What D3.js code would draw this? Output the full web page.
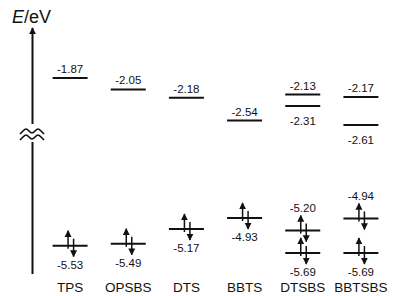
<!DOCTYPE html>
<html>
  <head>
    <script src="https://d3js.org/d3.v7.min.js"></script>
    <style>
      body { margin: 0; background: #fff; }
      text { font-family: "Liberation Sans", Arial, sans-serif; fill: #111; }
    </style>
  </head>
  <body>
    <svg width="394" height="296"></svg>
    <script>
    // molecules and their frontier orbital levels (eV)
    var categories = ["TPS", "OPSBS", "DTS", "BBTS", "DTSBS", "BBTSBS"];
    var lumo1 = [-1.87, -2.05, -2.18, -2.54, -2.13, -2.17];
    var lumo2 = [null, null, null, null, -2.31, -2.61];
    var homo1 = [-5.53, -5.49, -5.17, -4.93, -5.20, -4.94];
    var homo2 = [null, null, null, null, -5.69, -5.69];

    var svg = d3.select("svg");

    var x = d3.scaleBand().domain(categories).range([41, 390]);
    // broken axis: two separate scales for LUMO and HOMO regions
    var yTop = d3.scaleLinear().domain([-1.87, -2.61]).range([78, 125]);
    var yBot = d3.scaleLinear().domain([-4.93, -5.69]).range([218, 253]);
    var half = 17.5;
    function cx(c) { return x(c) + x.bandwidth() / 2; }

    // arrow head marker
    svg.append("defs").append("marker")
        .attr("id", "head")
        .attr("viewBox", "0 0 10 10")
        .attr("refX", 9).attr("refY", 5)
        .attr("markerWidth", 7).attr("markerHeight", 8)
        .attr("markerUnits", "userSpaceOnUse")
        .attr("orient", "auto")
      .append("path").attr("d", "M0,0L10,5L0,10Z").attr("fill", "#111");

    // vertical energy axis
    var ax = 32.5;
    svg.append("line").attr("x1", ax).attr("x2", ax).attr("y1", 124).attr("y2", 28)
        .attr("stroke", "#111").attr("stroke-width", 2).attr("marker-end", "url(#head)");
    svg.append("line").attr("x1", ax).attr("x2", ax).attr("y1", 142).attr("y2", 274)
        .attr("stroke", "#111").attr("stroke-width", 2);

    // break symbol
    var wave = d3.line().curve(d3.curveBasis);
    [131, 137].forEach(function(y0) {
      var pts = d3.range(0, 25, 3).map(function(d) {
        return [20 + d, y0 + 3 * Math.cos(d / 12 * 2 * Math.PI)];
      });
      svg.append("path").attr("d", wave(pts)).attr("fill", "none")
          .attr("stroke", "#111").attr("stroke-width", 1.7);
    });

    svg.append("text").attr("x", 12).attr("y", 23).style("font-size", "18px")
        .html('<tspan style="font-style:italic">E</tspan>/eV');

    function levels(vals, yscale, spins, labelPos) {
      var data = categories.map(function(c, i) {
        return { c: c, v: vals[i], pos: labelPos(i) };
      }).filter(function(d) { return d.v !== null; });

      svg.append("g").selectAll("line").data(data).enter().append("line")
          .attr("x1", function(d) { return cx(d.c) - half; })
          .attr("x2", function(d) { return cx(d.c) + half; })
          .attr("y1", function(d) { return yscale(d.v); })
          .attr("y2", function(d) { return yscale(d.v); })
          .attr("stroke", "#111").attr("stroke-width", 2);

      svg.append("g").selectAll("text").data(data).enter().append("text")
          .attr("x", function(d) { return cx(d.c); })
          .attr("y", function(d) {
            var y = yscale(d.v);
            if (d.pos === "above") return y - (spins ? 18 : 5);
            return y + (spins ? 23 : 19);
          })
          .attr("text-anchor", "middle")
          .style("font-size", "11.5px")
          .text(function(d) { return d.v.toFixed(2); });

      if (spins) {
        var g = svg.append("g");
        g.selectAll(".up").data(data).enter().append("line")
            .attr("x1", function(d) { return cx(d.c) - 2; })
            .attr("x2", function(d) { return cx(d.c) - 2; })
            .attr("y1", function(d) { return yscale(d.v) + 3; })
            .attr("y2", function(d) { return yscale(d.v) - 15; })
            .attr("stroke", "#111").attr("stroke-width", 1.5)
            .attr("marker-end", "url(#head)");
        g.selectAll(".dn").data(data).enter().append("line")
            .attr("x1", function(d) { return cx(d.c) + 3.5; })
            .attr("x2", function(d) { return cx(d.c) + 3.5; })
            .attr("y1", function(d) { return yscale(d.v) - 7; })
            .attr("y2", function(d) { return yscale(d.v) + 11; })
            .attr("stroke", "#111").attr("stroke-width", 1.5)
            .attr("marker-end", "url(#head)");
      }
    }

    levels(lumo1, yTop, false, function() { return "above"; });
    levels(lumo2, yTop, false, function() { return "below"; });
    levels(homo1, yBot, true, function(i) { return homo2[i] === null ? "below" : "above"; });
    levels(homo2, yBot, true, function() { return "below"; });

    svg.append("g").selectAll("text").data(categories).enter().append("text")
        .attr("x", function(d) { return cx(d); })
        .attr("y", 292)
        .attr("text-anchor", "middle")
        .style("font-size", "13.5px")
        .text(function(d) { return d; });
    </script>
  </body>
</html>
